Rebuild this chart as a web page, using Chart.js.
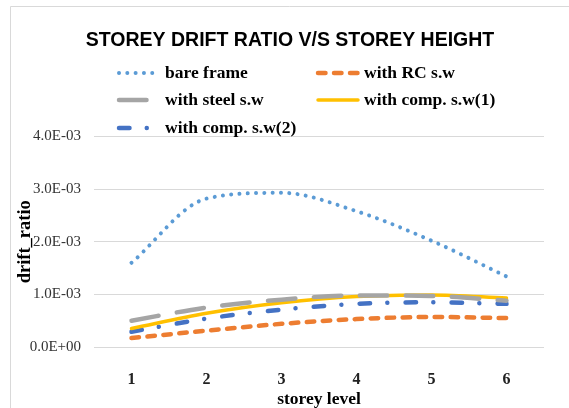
<!DOCTYPE html>
<html lang="en">
  <head>
    <meta charset="UTF-8" />
    <title>Storey drift ratio</title>
    <style>
      * {
        margin: 0;
        padding: 0;
        box-sizing: border-box;
      }
      body {
        background: white;
      }
      .chartBox {
        width: 569px;
        height: 408px;
      }
    </style>
  </head>
  <body>
    <div class="chartBox">
      <canvas id="myChart"></canvas>
    </div>

    <script src="https://cdn.jsdelivr.net/npm/chart.js"></script>

    <script>
      const levels = ["1", "2", "3", "4", "5", "6"];
      const bareFrame = [1.6e-3, 2.82e-3, 2.93e-3, 2.58e-3, 2.02e-3, 1.34e-3];
      const rcWall = [0.17e-3, 0.31e-3, 0.44e-3, 0.53e-3, 0.57e-3, 0.55e-3];
      const steelWall = [0.5e-3, 0.75e-3, 0.9e-3, 0.98e-3, 0.97e-3, 0.88e-3];
      const compWall1 = [0.35e-3, 0.64e-3, 0.84e-3, 0.96e-3, 0.99e-3, 0.93e-3];
      const compWall2 = [0.29e-3, 0.54e-3, 0.71e-3, 0.82e-3, 0.85e-3, 0.82e-3];
      const yTicks = [0, 1e-3, 2e-3, 3e-3, 4e-3];

      const serif = '"Liberation Serif", "DejaVu Serif", serif';

      const data = {
        labels: levels,
        datasets: [
          {
            label: "bare frame",
            data: bareFrame,
            borderColor: "#5B9BD5",
            borderWidth: 4,
            borderDash: [0.01, 8.3],
            borderCapStyle: "round",
          },
          {
            label: "with RC s.w",
            data: rcWall,
            borderColor: "#ED7D31",
            borderWidth: 4.5,
            borderDash: [7.5, 8.5],
            borderCapStyle: "round",
          },
          {
            label: "with steel s.w",
            data: steelWall,
            borderColor: "#A5A5A5",
            borderWidth: 4.5,
            borderDash: [27.5, 18.5],
            borderCapStyle: "round",
          },
          {
            label: "with comp. s.w(1)",
            data: compWall1,
            borderColor: "#FFC000",
            borderWidth: 3.5,
            borderCapStyle: "round",
          },
          {
            label: "with comp. s.w(2)",
            data: compWall2,
            borderColor: "#4472C4",
            borderWidth: 4.5,
            borderDash: [10.5, 17.25, 0.01, 18.24],
            borderCapStyle: "round",
          },
        ],
      };

      // frame, title and the two-column legend drawn over the plot
      const excelDecor = {
        id: "excelDecor",
        beforeDraw(chart) {
          const { ctx } = chart;
          ctx.save();
          ctx.strokeStyle = "#D9D9D9";
          ctx.lineWidth = 1;
          ctx.beginPath();
          ctx.moveTo(10.5, chart.height);
          ctx.lineTo(10.5, 6.5);
          ctx.lineTo(chart.width, 6.5);
          ctx.stroke();
          ctx.restore();
        },
        afterDraw(chart, args, options) {
          const { ctx } = chart;
          ctx.save();
          ctx.fillStyle = "#000";
          ctx.textAlign = "center";
          ctx.textBaseline = "middle";
          ctx.font = 'bold 19.5px "Liberation Sans", Arial, sans-serif';
          ctx.fillText(options.title, 290, 41);

          ctx.font = "bold 17.5px " + serif;
          ctx.textAlign = "left";
          chart.data.datasets.forEach((ds, i) => {
            const slot = options.slots[i];
            ctx.save();
            ctx.strokeStyle = ds.borderColor;
            ctx.lineWidth = ds.borderWidth;
            ctx.lineCap = ds.borderCapStyle || "butt";
            ctx.setLineDash(ds.borderDash || []);
            ctx.beginPath();
            ctx.moveTo(slot.x + 2, slot.y);
            ctx.lineTo(slot.x + 42, slot.y);
            ctx.stroke();
            ctx.restore();
            ctx.fillText(ds.label, slot.x + 48, slot.y);
          });
          ctx.restore();
        },
      };

      const config = {
        type: "line",
        data: data,
        options: {
          responsive: true,
          maintainAspectRatio: false,
          animation: false,
          devicePixelRatio: 1,
          layout: {
            padding: { left: 0, right: 25, top: 136.5, bottom: 0 },
          },
          elements: {
            line: { cubicInterpolationMode: "monotone", fill: false },
            point: { radius: 0, hoverRadius: 0 },
          },
          plugins: {
            legend: { display: false },
            tooltip: { enabled: false },
            excelDecor: {
              title: "STOREY DRIFT RATIO V/S STOREY HEIGHT",
              slots: [
                { x: 117, y: 73 },
                { x: 316, y: 73 },
                { x: 117, y: 100 },
                { x: 316, y: 100 },
                { x: 117, y: 128 },
              ],
            },
          },
          scales: {
            x: {
              offset: true,
              grid: { display: false },
              border: { display: false },
              ticks: {
                padding: 15,
                color: "#222",
                font: { family: serif, size: 16, weight: "bold" },
              },
              title: {
                display: true,
                text: "storey level",
                color: "#000",
                padding: 0,
                font: { family: serif, size: 17.5, weight: "bold", lineHeight: 1 },
              },
              afterFit: (scale) => {
                scale.height = 61;
              },
            },
            y: {
              min: 0,
              max: 4e-3,
              grid: { color: "#D9D9D9", lineWidth: 1, drawTicks: false },
              border: { display: false },
              afterBuildTicks: (scale) => {
                scale.ticks = yTicks.map((v) => ({ value: v }));
              },
              ticks: {
                padding: 13,
                color: "#333",
                font: { family: serif, size: 15 },
                callback: (v) => {
                  const s = Number(v).toExponential(1).toUpperCase();
                  return s.replace(/E([+-])(\d)$/, "E$10$2");
                },
              },
              title: {
                display: true,
                text: "drift_ratio",
                color: "#000",
                padding: { top: 16, bottom: 0 },
                font: { family: serif, size: 18.5, weight: "bold", lineHeight: 1 },
              },
              afterFit: (scale) => {
                scale.width = 94;
              },
            },
          },
        },
        plugins: [excelDecor],
      };

      const myChart = new Chart(document.getElementById("myChart"), config);
    </script>
  </body>
</html>
